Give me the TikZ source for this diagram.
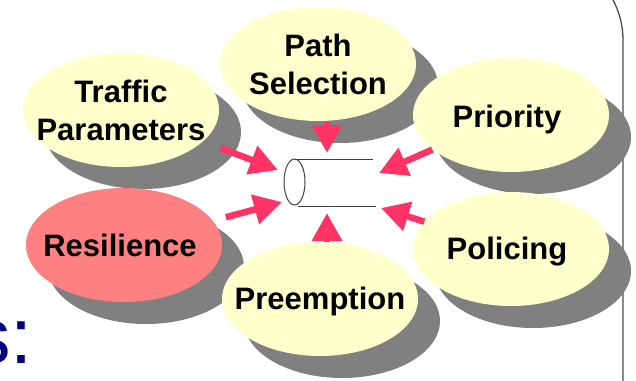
\documentclass[tikz,border=0pt]{standalone}
\usepackage{fontspec}
\setmainfont{Liberation Sans}
\usepackage{xcolor}
\usepackage{tikz}
\usetikzlibrary{arrows.meta,shapes.geometric,shadows}
\definecolor{bubblefill}{HTML}{FFFFCC}
\definecolor{hotfill}{HTML}{FF8080}
\definecolor{shadowgray}{HTML}{808080}
\definecolor{arrowpink}{HTML}{FF3366}
\definecolor{navytext}{HTML}{000080}

\begin{document}
\begin{tikzpicture}[x=1pt, y=-1pt, line width=1pt,
    bubble/.style={ellipse, fill=bubblefill, minimum width=196pt, minimum height=114pt, inner sep=0pt,
      drop shadow={shadow xshift=22pt, shadow yshift=-22pt, fill=shadowgray, opacity=1}},
    word/.style={font=\bfseries\fontsize{31}{38}\selectfont, align=center},
    push/.style={-{Triangle[width=29pt,length=28pt]}, arrowpink, line width=6.5pt}]
   \useasboundingbox (0,0) rectangle (636,380);

   % right hand frame
   \draw [rounded corners=85pt, black!70, line width=1.3pt] (450,-45) -| (623,420);
   \node [anchor=base east, inner sep=0pt, text=navytext, font=\fontsize{79}{79}\selectfont] (colon) at (33,363) {s:};

   \node [bubble, label={[word]center:Traffic\\Parameters}] (traffic) at (121,110) {};
   \node [bubble, label={[word]center:Path\\Selection}] (path) at (318,64) {};
   \node [bubble, label={[word, xshift=-4pt, yshift=-4pt]center:Priority}] (priority) at (511,115) {};
   \node [bubble, fill=hotfill, label={[word, xshift=-4pt]center:Resilience}] (resilience) at (124,245) {};
   \node [bubble, label={[word, yshift=-2pt]center:Preemption}] (preemption) at (320,299) {};
   \node [bubble, label={[word, xshift=-4pt, yshift=-3pt]center:Policing}] (policing) at (511,249) {};

   % the pipe
   \coordinate (pipe) at (294.5,182);
   \draw [black!75] (pipe) ellipse [x radius=10.5, y radius=23];
   \draw [black!75] (pipe) ++(0,-23) -- ++(78,0);
   \draw [black!75] (pipe) ++(3,24) -- ++(78,0);

   \coordinate (tipT) at (278,170);
   \coordinate (tipR) at (282,202);
   \coordinate (tipP) at (379,173);
   \coordinate (tipL) at (381,208);
   \coordinate (tipS) at (327,153);
   \coordinate (tipE) at (327,213);

   \path (traffic) edge [push, shorten <=18pt] (tipT) ;
   \path (resilience) edge [push, shorten <=13pt] (tipR) ;
   \path (priority) edge [push] (tipP) ;
   \path (policing) edge [push] (tipL) ;
   \path (tipS |- path.south) edge [push] (tipS) ;
   \path (tipE |- preemption.north) edge [push] (tipE) ;
\end{tikzpicture}
\end{document}
